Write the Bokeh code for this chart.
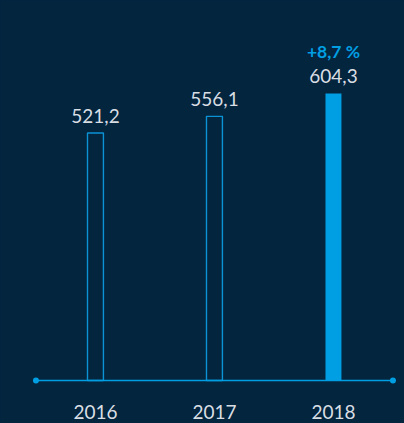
from bokeh.plotting import figure
from bokeh.models import Range1d, ColumnDataSource
from bokeh.core.properties import value
from bokeh.embed import file_html
from bokeh.resources import INLINE

# data
years = ["2016", "2017", "2018"]
values = [521.2, 556.1, 604.3]
value_labels = ["521,2", "556,1", "604,3"]
change_label = "+8,7 %"

BG = "#03253e"
BLUE = "#009fe3"
TXT = "#d9dee4"
FONT = "Lato"

xs = list(range(len(years)))

p = figure(width=404, height=423, output_backend="svg", toolbar_location=None,
           x_range=Range1d(-0.798, 2.597), y_range=Range1d(-90.5, 800),
           min_border=0, background_fill_color=BG, border_fill_color=BG)
p.axis.visible = False
p.grid.visible = False
p.outline_line_color = None

src = ColumnDataSource(dict(x=xs, top=values, year=years, lab=value_labels,
                            zero=[0] * len(xs)))

# outlined bars (first two) and filled bar (last)
p.vbar(x=xs[:-1], top=values[:-1], bottom=0, width=0.134,
       fill_color=None, line_color="#0b93d6", line_width=1.4)
p.vbar(x=xs[-1:], top=values[-1:], bottom=0, width=0.134,
       fill_color=BLUE, line_color=None)

# baseline with end dots
p.segment(x0=[-0.5], y0=[0], x1=[2.5], y1=[0], line_color=BLUE, line_width=1.6)
p.scatter(x=[-0.5, 2.5], y=[0, 0], size=6, fill_color=BLUE, line_color=None)

# value labels
p.text(x="x", y="top", text="lab", source=src, text_align="center",
       text_baseline="alphabetic", y_offset=-17, text_color=TXT,
       text_font=value(FONT), text_font_size="19px")

# year labels
p.text(x="x", y="zero", text="year", source=src, text_align="center",
       text_baseline="alphabetic", y_offset=31, text_color=TXT,
       text_font=value(FONT), text_font_size="19px")

# change label
p.text(x=xs[-1:], y=values[-1:], text=[change_label], text_align="center",
       text_baseline="alphabetic", y_offset=-42, text_color=BLUE,
       text_font=value(FONT), text_font_style="bold", text_font_size="17.5px")

html = file_html(p, INLINE)
html = html.replace("<head>", "<head><style>html,body{margin:0;padding:0;background:%s;}</style>" % BG, 1)
open("out.html", "w").write(html)
